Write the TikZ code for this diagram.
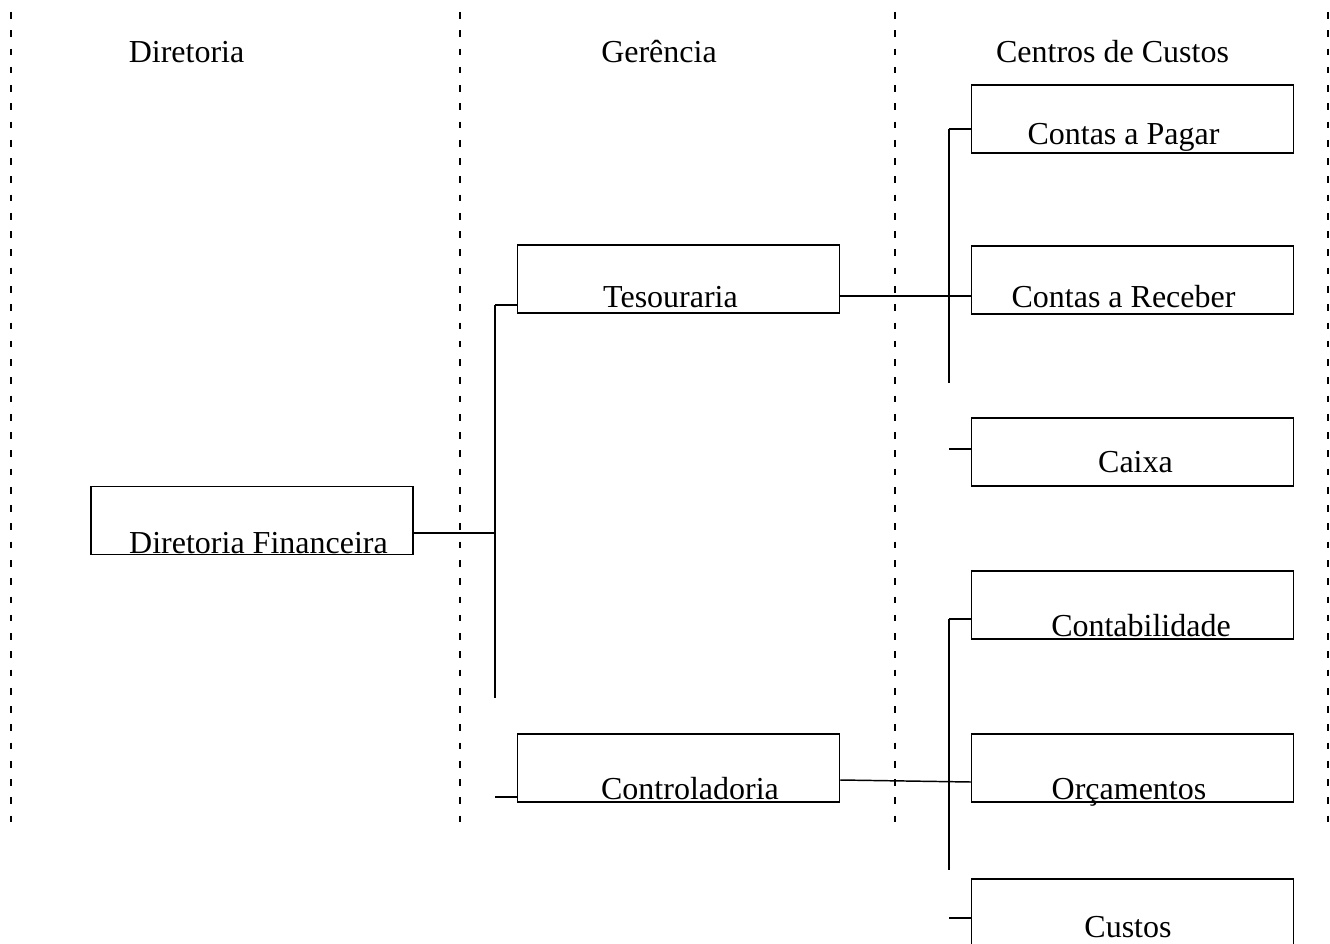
\documentclass[tikz,border=0pt]{standalone}
\usepackage{fontspec}
\setmainfont{Liberation Serif}
\begin{document}
\begin{tikzpicture}[x=0.75pt,y=-0.75pt,
  box/.style={draw,line width=1.1pt,minimum width=241.5pt,minimum height=51pt,inner sep=0pt,anchor=center},
  lbl/.style={anchor=base,inner sep=0pt,font=\fontsize{24}{28}\selectfont},
  conn/.style={line width=1.1pt},
  sep/.style={line width=1.5pt,dash pattern=on 5pt off 8.7pt}]
\useasboundingbox (0,0) rectangle (1330,944);
% column separators
\foreach \x in {11,460,895,1328} \draw[sep] (\x,12) -- (\x,826);
% headers
\node[lbl] (h1) at (186.5,63) {Diretoria};
\node[lbl] (h2) at (659,63) {Gerência};
\node[lbl] (h3) at (1112.5,63) {Centros de Custos};
% boxes
\node[box] (df) at (252,520.5) {};
\node[box] (tes) at (678.5,279) {};
\node[box] (con) at (678.5,768) {};
\node[box] (cp) at (1132.5,119) {};
\node[box] (cr) at (1132.5,280) {};
\node[box] (cx) at (1132.5,452) {};
\node[box] (cb) at (1132.5,605) {};
\node[box] (orc) at (1132.5,768) {};
\node[box] (cus) at (1132.5,913) {};
% box texts
\node[lbl] (tdf) at (258.5,553) {Diretoria Financeira};
\node[lbl] (ttes) at (670.5,308) {Tesouraria};
\node[lbl] (tcon) at (690,799) {Controladoria};
\node[lbl] (tcp) at (1123.5,145) {Contas a Pagar};
\node[lbl] (tcr) at (1123.5,308) {Contas a Receber};
\node[lbl] (tcx) at (1135.5,472) {Caixa};
\node[lbl] (tcb) at (1141,636) {Contabilidade};
\node[lbl] (torc) at (1129,799) {Orçamentos};
\node[lbl] (tcus) at (1128,937) {Custos};
% junction coordinates
\coordinate (j1) at (495,533);
\coordinate (bt) at (495,305);
\coordinate (bb) at (495,698);
\coordinate (bc) at (495,797);
\coordinate (y1) at (0,296);
\coordinate (y2) at (0,780);
\coordinate (y3) at (0,782);
\coordinate (r1t) at (949,129);
\coordinate (r1b) at (949,383);
\coordinate (r1c) at (949,449);
\coordinate (r2t) at (949,619);
\coordinate (r2b) at (949,870);
\coordinate (r2c) at (949,918);
% connectors
\draw[conn] (df.east |- j1) -- (j1);
\draw[conn] (bt) -- (bb);
\draw[conn] (bt) -- (tes.west |- bt);
\draw[conn] (bc) -- (con.west |- bc);
\draw[conn] (tes.east |- y1) -- (cr.west |- y1);
\draw[conn] (con.east |- y2) -- (orc.west |- y3);
\draw[conn] (r1t) -- (r1b);
\draw[conn] (r1t) -- (cp.west |- r1t);
\draw[conn] (r1c) -- (cx.west |- r1c);
\draw[conn] (r2t) -- (r2b);
\draw[conn] (r2t) -- (cb.west |- r2t);
\draw[conn] (r2c) -- (cus.west |- r2c);
\end{tikzpicture}
\end{document}
